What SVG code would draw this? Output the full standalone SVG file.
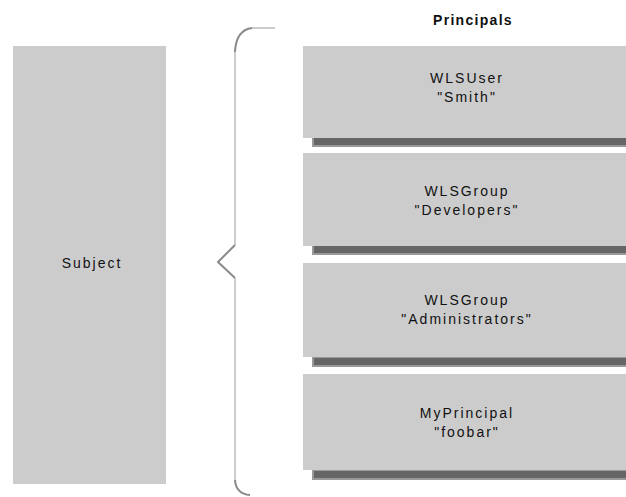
<svg xmlns="http://www.w3.org/2000/svg" width="626" height="497" viewBox="0 0 626 497">
<style>
.box{fill:#cccccc}
.bar{fill:#666666;stroke:#999999;stroke-width:2}
.t{font-family:"Liberation Sans",Arial,sans-serif;font-size:14px;letter-spacing:2px;fill:#111;text-anchor:middle}
.brace{fill:none;stroke:#cccccc;stroke-width:2}
.bc{fill:none;stroke:#8a8a8a;stroke-width:2}
</style>
<rect width="626" height="497" fill="#ffffff"/>
<g id="subject">
<rect class="box" x="13" y="46" width="153" height="438"/>
<text class="t" x="92" y="268">Subject</text>
</g>
<g id="brace">
<path class="brace" d="M235,52 V245 M235,278 V480"/>
<path class="bc" d="M235,52 Q236,30 252,28"/>
<path class="brace" d="M252,28 H275"/>
<path class="bc" d="M235,245 L218,262 L235,278"/>
<path class="bc" d="M235,480 Q236,494 250,495"/>
</g>
<text class="t" x="473" y="25" style="font-weight:bold;letter-spacing:1.3px">Principals</text>
<g id="p1">
<rect class="bar" x="313" y="137" width="314" height="9"/>
<rect class="box" x="303" y="46" width="323" height="92"/>
<text class="t" x="467" y="83">WLSUser</text>
<text class="t" x="467" y="102">"Smith"</text>
</g>
<g id="p2">
<rect class="bar" x="313" y="245" width="314" height="9"/>
<rect class="box" x="303" y="153" width="323" height="93"/>
<text class="t" x="467" y="196">WLSGroup</text>
<text class="t" x="467" y="215">"Developers"</text>
</g>
<g id="p3">
<rect class="bar" x="313" y="357" width="314" height="9"/>
<rect class="box" x="303" y="263" width="323" height="94"/>
<text class="t" x="467" y="305">WLSGroup</text>
<text class="t" x="467" y="324">"Administrators"</text>
</g>
<g id="p4">
<rect class="bar" x="313" y="470" width="314" height="9"/>
<rect class="box" x="303" y="374" width="323" height="96"/>
<text class="t" x="467" y="418">MyPrincipal</text>
<text class="t" x="467" y="437">"foobar"</text>
</g>
</svg>
